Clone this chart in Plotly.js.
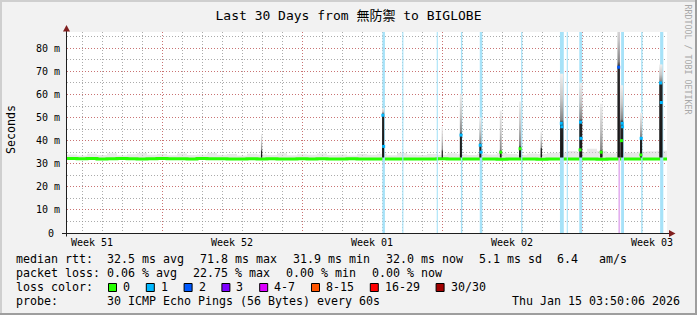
<!DOCTYPE html>
<html><head><meta charset="utf-8">
<script src="https://cdn.plot.ly/plotly-3.0.1.min.js"></script>
<style>html,body{margin:0;padding:0;background:#F2F2F2;} #chart{width:697px;height:315px;}</style>
</head><body><div id="chart"></div>
<script>
// ---------------- data ----------------
const chartTitle = 'Last 30 Days from 無防禦 to BIGLOBE';
const rangeStart = '2025-12-17 06:00';
const rangeEnd   = '2026-01-16 06:00';
const sampleStart = '2025-12-17 06:00';   // baseline samples, one every 12 h
const sampleHours = 12;
const medianBase = [32.3,32.2,32.3,32.1,32.2,32.3,32.2,32.1,32.2,32.3,
                    32.2,32.2,32.1,32.3,32.2,32.2,32.0,32.1,32.2,32.1,
                    32.2,32.1,32.0,32.2,32.1,32.2,32.0,32.1,32.2,32.1,
                    32.0,32.1,32.0,32.1,32.0,32.1,32.0,32.2,32.0,32.1,
                    32.0,32.1,32.0,31.9,32.0,32.1,32.0,31.9,32.0,32.1,
                    32.0,32.1,32.0,31.9,32.0,32.1,32.0,32.0,32.1,32.0,32.0];
const smokeBase  = [34.0,33.6,34.3,33.8,34.5,33.7,34.1,34.6,33.9,34.2,
                    33.7,34.4,33.8,34.0,34.7,33.9,34.2,33.6,34.3,34.0,
                    33.8,34.5,33.7,34.1,33.9,34.4,33.8,34.0,33.6,34.2,
                    33.9,34.3,33.7,34.6,34.0,33.8,34.2,33.9,34.5,34.1,
                    33.8,34.3,34.0,34.6,34.2,33.9,34.4,34.2,34.6,34.8,
                    35.5,35.0,36.5,35.5,34.5,34.8,34.8,35.2,35.4,35.6,34.0];

const weekStarts = ['2025-12-22','2025-12-29','2026-01-05','2026-01-12'];
const weekMids   = ['2025-12-18 12:00','2025-12-25 12:00','2026-01-01 12:00','2026-01-08 12:00','2026-01-15 12:00'];
const weekLabels = ['Week 51','Week 52','Week 01','Week 02','Week 03'];
const yTickVals  = [0,10,20,30,40,50,60,70,80];
const yTickText  = ['0\u00a0','10 m','20 m','30 m','40 m','50 m','60 m','70 m','80 m'];

// smoke spikes: time, top of dense smoke, top of faint smoke (ms), duration (h)
const spikeTime  = ['2025-12-26 23:30','2026-01-02 01:20','2026-01-05 00:20','2026-01-05 22:40','2026-01-06 22:00',
                    '2026-01-07 22:30','2026-01-08 21:40','2026-01-09 23:10','2026-01-10 23:40','2026-01-11 22:30',
                    '2026-01-12 23:10','2026-01-13 20:00','2026-01-13 23:40','2026-01-14 22:50','2026-01-15 22:40'];
const spikeDark  = [35.5, 51.0, 35.5, 42.7, 38.4, 35.2, 37.0, 36.5, 47.5, 48.2, 35.2, 71.8, 48.0, 41.0, 64.0];
const spikeFaint = [43.0, 54.0, 46.0, 60.0, 50.0, 53.0, 57.0, 44.0, 69.0, 65.0, 56.0, 95.0, 64.0, 52.0, 73.0];
const spikeHours = [1.5, 2.5, 1.5, 2.5, 2.5, 2.2, 2.5, 1.8, 4.0, 3.5, 3.0, 3.0, 3.5, 2.5, 4.0];

// packet loss periods: time, duration (h), loss class index
const lossTime  = ['2026-01-02 02:00','2026-01-03 01:00','2026-01-04 18:20','2026-01-05 23:30','2026-01-06 22:50',
                   '2026-01-08 23:40','2026-01-10 23:50','2026-01-11 06:20','2026-01-11 22:30','2026-01-13 20:40',
                   '2026-01-14 00:40','2026-01-14 23:50','2026-01-15 23:40'];
const lossHours = [3.0, 1.3, 1.3, 1.6, 3.0, 1.4, 4.6, 1.3, 3.5, 2.0, 3.4, 1.6, 3.8];
const lossClass = [1,1,1,1,1,1,1,1,1,4,1,1,1];

// median rtt points during spikes: time, value (ms), loss class index
const dotTime = ['2026-01-02 01:00','2026-01-02 02:00','2026-01-05 22:50','2026-01-06 21:50','2026-01-06 22:50',
                 '2026-01-07 22:30','2026-01-08 21:40','2026-01-10 23:10','2026-01-10 23:50','2026-01-11 22:10',
                 '2026-01-11 22:50','2026-01-11 21:40','2026-01-12 23:00','2026-01-13 20:00','2026-01-13 23:20',
                 '2026-01-14 00:10','2026-01-14 00:40','2026-01-14 22:40','2026-01-14 23:00','2026-01-15 22:10','2026-01-15 23:10'];
const dotVal  = [51, 37.5, 42.4, 38, 35, 35, 36.5, 47.5, 46, 48, 41, 36, 35, 71.8, 40, 47.5, 46, 33.8, 41, 65, 56.5];
const dotClass= [1,1,1,1,1,0,0,1,1,1,1,0,0,2,0,1,1,0,1,1,1];

const lossLabels = ['0','1','2','3','4-7','8-15','16-29','30/30'];
const lossColors = ['#26ff00','#00b8ff','#0059ff','#7e00ff','#dd00ff','#ff5500','#ff0000','#a10000'];
const lossBandColors = {1:'#a6e2f8', 4:'#e3b0ef'};

// legend rows: label + value items
const rowLabels  = ['median rtt:','packet loss:','loss color:','probe:'];
const rttItems   = ['32.5 ms avg','71.8 ms max','31.9 ms min','32.0 ms now','5.1 ms sd','6.4   am/s'];
const lossItems  = ['0.06 % avg','22.75 % max','0.00 % min','0.00 % now'];
const probeItems = ['30 ICMP Echo Pings (56 Bytes) every 60s'];
const stampText  = 'Thu Jan 15 03:50:06 2026';
const watermark  = 'RRDTOOL / TOBI OETIKER';

// ---------------- layout constants (pixels) ----------------
const W = 697, H = 315, L = 67, R = 667, T = 32, B = 233;
const LEG_X = 16, TAB_X = 107.3;
const rowY   = [259.3, 273.3, 287.3, 300.7];
const CW = 7.0, GAP = 15.8, LEG_FONT = 11.63;

// ---------------- helpers ----------------
const px = x => (x - L) / (R - L);
const py = y => (B - y) / (B - T);
const HOUR = 3600000;
const toMs = s => { const [d, t] = s.split(' '); const [Y, M, D] = d.split('-').map(Number);
  const [h, m] = (t || '00:00').split(':').map(Number); return Date.UTC(Y, M - 1, D, h, m); };
const toStr = ms => new Date(ms).toISOString().replace('T', ' ').slice(0, 19);
const nb = s => s.replace(/ /g, '\u00a0');
const YMAX = 87.05, SPIKE_BASE = 32.7;

const mono = 'DejaVu Sans Mono, Noto Sans CJK JP, monospace';
const traces = [];

// baseline sample times
const t0 = toMs(sampleStart);
const baseX = medianBase.map((_, i) => toStr(t0 + i * sampleHours * HOUR));

// faint smoke fringe above median
traces.push({x: baseX, y: medianBase, mode: 'lines', line: {width: 0, shape: 'hv'}, hoverinfo: 'skip'});
traces.push({x: baseX, y: smokeBase, mode: 'lines', fill: 'tonexty', fillcolor: 'rgba(210,210,210,0.5)',
             line: {width: 0, shape: 'hv'}, hoverinfo: 'skip'});
// median line
traces.push({x: baseX, y: medianBase, mode: 'lines', line: {color: lossColors[0], width: 3, shape: 'hv'}, hoverinfo: 'skip'});

// loss bands (full height)
Object.keys(lossBandColors).forEach(k => {
  const xs = [], ys = [];
  lossTime.forEach((t, i) => {
    if (lossClass[i] !== Number(k)) return;
    const c = toMs(t), h = lossHours[i] * HOUR / 2;
    xs.push(toStr(c - h), toStr(c + h), toStr(c + h), toStr(c - h), toStr(c - h), null);
    ys.push(0, 0, 100, 100, 0, null);
  });
  traces.push({x: xs, y: ys, mode: 'lines', fill: 'toself', fillcolor: lossBandColors[k],
               line: {width: 0}, hoverinfo: 'skip'});
});

// smoke spikes
spikeTime.forEach((t, i) => {
  const c = toMs(t), h = spikeHours[i] * HOUR / 2;
  const top = spikeFaint[i];
  const f = (spikeDark[i] - SPIKE_BASE) / (top - SPIKE_BASE);
  const g1 = Math.min(f + 0.04, 0.97);
  const g2 = Math.min(f + (1 - f) * 0.5, 0.985);
  traces.push({
    x: [toStr(c - h), toStr(c + h), toStr(c + h), toStr(c - h), toStr(c - h)],
    y: [SPIKE_BASE, SPIKE_BASE, top, top, SPIKE_BASE],
    mode: 'lines', fill: 'toself', line: {width: 0}, hoverinfo: 'skip',
    fillgradient: {type: 'vertical', start: SPIKE_BASE, stop: top,
      colorscale: [[0, '#141414'], [f, '#262626'], [g1, '#848484'], [g2, '#c6c6c6'], [1, '#efefef']]}
  });
});

// colored median points
traces.push({x: dotTime, y: dotVal, mode: 'markers', hoverinfo: 'skip',
  marker: {symbol: 'square', size: 3, color: dotClass.map(c => lossColors[c]), line: {width: 0}}});

// empty trace to carry the week-boundary axis
traces.push({x: [], y: [], xaxis: 'x2', mode: 'markers', hoverinfo: 'skip'});

// ---------------- decorations ----------------
const shapes = [];
const rectPx = (x0, y0, x1, y1, fill, line) => shapes.push({type: 'rect', xref: 'paper', yref: 'paper',
  x0: px(x0), x1: px(x1), y0: py(y0), y1: py(y1), fillcolor: fill, line: line || {width: 0}, layer: 'above'});
// 3D frame
rectPx(0, 0, W, 2, '#CFCFCF'); rectPx(0, 0, 2, H, '#CFCFCF');
rectPx(0, H - 2, W, H, '#9E9E9E'); rectPx(W - 2, 0, W, H, '#9E9E9E');
// axes
shapes.push({type: 'line', xref: 'paper', yref: 'paper', x0: px(66.5), x1: px(66.5), y0: py(236.5), y1: py(29),
  line: {color: '#1F1F1F', width: 1}});
shapes.push({type: 'line', xref: 'paper', yref: 'paper', x0: px(62), x1: px(670), y0: py(233.5), y1: py(233.5),
  line: {color: '#1F1F1F', width: 1}});
const pathPx = pts => 'M' + pts.map(p => px(p[0]) + ',' + py(p[1])).join('L') + 'Z';
shapes.push({type: 'path', xref: 'paper', yref: 'paper', path: pathPx([[63, 31.5], [70, 31.5], [66.5, 25]]),
  fillcolor: '#801F1F', line: {width: 0}});
shapes.push({type: 'path', xref: 'paper', yref: 'paper', path: pathPx([[669, 230], [669, 237], [675.5, 233.5]]),
  fillcolor: '#801F1F', line: {width: 0}});

const annotations = [];
const textPx = (x, y, text, opts) => annotations.push(Object.assign({xref: 'paper', yref: 'paper', x: px(x), y: py(y),
  text: nb(text), showarrow: false, xanchor: 'left', yanchor: 'middle', borderpad: 0, borderwidth: 0,
  font: {family: mono, size: LEG_FONT, color: '#000'}}, opts || {}));

rowLabels.forEach((s, r) => textPx(LEG_X, rowY[r], s));
const placeRow = (items, y) => { let x = TAB_X; items.forEach(s => { textPx(x, y, s); x += s.length * CW + GAP; }); };
placeRow(rttItems, rowY[0]);
placeRow(lossItems, rowY[1]);
placeRow(probeItems, rowY[3]);
textPx(680, rowY[3], stampText, {xanchor: 'right'});

// loss colour legend
let lx = 108;
lossLabels.forEach((lab, i) => {
  rectPx(lx + 0.5, 283.5, lx + 8.5, 291.5, lossColors[i], {color: '#000', width: 1});
  textPx(lx + 15, rowY[2], lab);
  lx = lx + 15 + lab.length * CW + GAP;
});

// y axis title
annotations.push({xref: 'paper', yref: 'paper', x: px(11), y: py(130), text: 'Seconds', showarrow: false,
  textangle: -90, xanchor: 'center', yanchor: 'middle', font: {family: mono, size: LEG_FONT, color: '#000'}});
// watermark
annotations.push({xref: 'paper', yref: 'paper', x: px(687.5), y: py(59), text: nb(watermark), showarrow: false,
  textangle: 90, xanchor: 'center', yanchor: 'middle', font: {family: mono, size: 8.3, color: '#A8A8A8'}});

const gridGrey = 'rgba(143,143,143,0.75)', gridRed = 'rgba(222,79,79,0.6)', dash = '1px,2px';
const layout = {
  width: W, height: H,
  paper_bgcolor: '#F2F2F2', plot_bgcolor: '#FFFFFF',
  margin: {l: L, r: W - R, t: T, b: H - B, pad: 0},
  showlegend: false, hovermode: false,
  title: {text: chartTitle, font: {family: mono, size: 13, color: '#000'},
          x: 0.5, xref: 'container', xanchor: 'center', y: 1 - 15 / H, yref: 'container', yanchor: 'middle'},
  xaxis: {type: 'date', range: [rangeStart, rangeEnd], tickmode: 'array', tickvals: weekMids, ticktext: weekLabels,
          showgrid: false, zeroline: false, showline: false, ticks: '', ticklabelstandoff: 2,
          tickfont: {family: mono, size: 10, color: '#000'},
          minor: {tickmode: 'linear', tick0: '2025-12-18', dtick: 86400000, showgrid: true,
                  gridcolor: gridGrey, griddash: dash, gridwidth: 1, ticks: ''}},
  xaxis2: {type: 'date', overlaying: 'x', anchor: 'y', range: [rangeStart, rangeEnd], tickmode: 'array',
           tickvals: weekStarts, showticklabels: false, ticks: '', showgrid: true, gridcolor: gridRed,
           griddash: dash, gridwidth: 1, zeroline: false, showline: false},
  yaxis: {range: [0, YMAX], tickmode: 'array', tickvals: yTickVals, ticktext: yTickText,
          showgrid: true, gridcolor: gridRed, griddash: dash, gridwidth: 1, zeroline: false, showline: false,
          ticks: '', ticklabelstandoff: 6, tickfont: {family: mono, size: 10, color: '#000'},
          minor: {tickmode: 'linear', tick0: 0, dtick: 5, showgrid: true, gridcolor: gridGrey,
                  griddash: dash, gridwidth: 1, ticks: ''}},
  shapes: shapes, annotations: annotations
};

Plotly.newPlot('chart', traces, layout, {staticPlot: true, displayModeBar: false});
</script></body></html>
